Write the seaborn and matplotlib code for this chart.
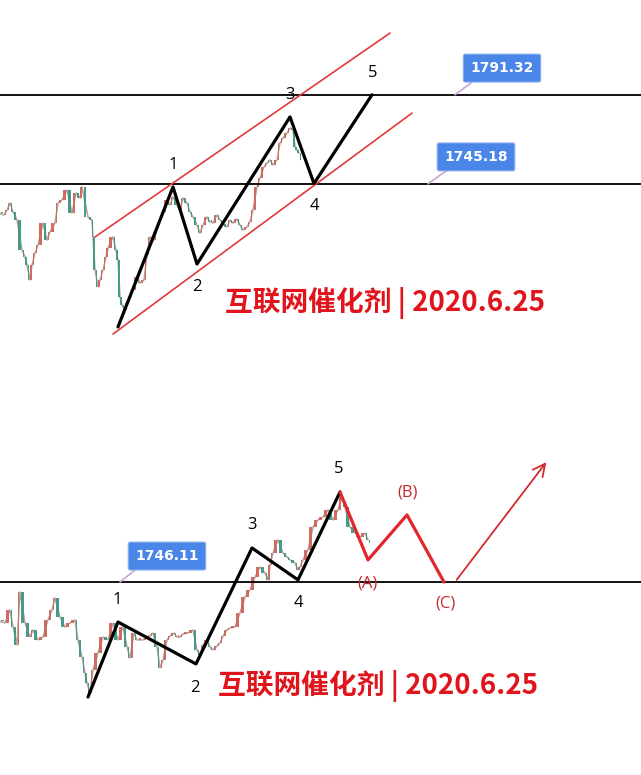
import numpy as np
import seaborn as sns
import matplotlib.pyplot as plt

# ---- top panel data (x = bar position, prices) ----
top_x = [0, 4, 7, 10, 13, 17, 22, 25, 27, 30, 32, 35, 38, 43, 47, 50, 55, 58, 62, 67,
         72, 76, 80, 82, 88, 92, 93, 95, 98, 100, 103, 106, 108, 113, 116, 118, 120, 122, 125, 127,
         130, 133, 137, 140, 144, 147, 150, 154, 157, 160, 163, 167, 170, 173, 177, 180, 183, 187, 190, 193,
         197, 200, 203, 207, 210, 213, 217, 220, 223, 227, 230, 233, 237, 240, 243, 247, 250, 253, 257, 260,
         264, 267, 270, 273, 277, 280, 283, 287, 290, 293, 295, 297, 299]
top_close = [1728.8, 1731.4, 1735.0, 1730.4, 1726.2, 1710.6, 1707.0, 1702.8, 1695.0, 1702.8,
             1709.0, 1713.2, 1724.6, 1715.8, 1720.0, 1724.6, 1735.0, 1736.6, 1741.8, 1729.8,
             1740.2, 1737.6, 1743.4, 1727.8, 1726.2, 1717.4, 1700.2, 1691.4, 1695.0, 1700.2,
             1707.0, 1711.6, 1717.4, 1710.6, 1705.4, 1686.2, 1682.0, 1679.4, 1683.0, 1686.2,
             1689.8, 1696.6, 1693.4, 1695.0, 1708.0, 1717.4, 1715.8, 1722.0, 1726.2, 1730.4,
             1736.6, 1734.0, 1738.2, 1734.0, 1731.4, 1737.6, 1735.0, 1730.4, 1727.8, 1723.6,
             1719.4, 1723.6, 1727.8, 1725.2, 1724.6, 1728.8, 1726.2, 1724.1, 1722.6, 1726.2,
             1724.6, 1726.7, 1723.6, 1721.0, 1722.6, 1725.2, 1731.4, 1743.4, 1748.0, 1753.8,
             1755.8, 1757.4, 1754.8, 1757.4, 1766.2, 1768.8, 1771.4, 1774.0, 1773.0, 1764.2,
             1762.6, 1761.0, 1757.4]
top_levels = [1791.32, 1745.18]
top_wave_x = [118, 173, 197, 290, 314, 372]
top_wave_y = [1670.6, 1743.4, 1703.3, 1779.8, 1745.18, 1791.32]
top_wave_labels = ["1", "2", "3", "4", "5"]
top_label_x = [173, 197, 290, 314, 373]
top_label_y = [1754.8, 1691.4, 1791.2, 1733.5, 1802.6]
chan_upper_x, chan_upper_y = [95, 390], [1717.4, 1823.4]
chan_lower_x, chan_lower_y = [113, 412], [1666.9, 1781.8]

# ---- bottom panel data ----
bot_x = [0, 5, 10, 13, 17, 20, 25, 30, 33, 38, 43, 48, 52, 55, 60, 65, 70, 75, 78, 82,
         85, 87, 90, 93, 98, 103, 108, 113, 118, 123, 127, 130, 134, 137, 143, 147, 150, 153, 157, 160,
         163, 167, 170, 174, 177, 180, 183, 188, 193, 197, 200, 203, 207, 210, 213, 217, 220, 223, 227, 230,
         235, 240, 245, 250, 255, 260, 265, 268, 270, 273, 278, 283, 287, 290, 295, 298, 300, 303, 308, 313,
         318, 323, 328, 333, 338, 342, 345, 350, 355, 360, 365, 368]
bot_close = [1724.8, 1731.6, 1722.7, 1713.4, 1740.9, 1724.8, 1717.5, 1721.2, 1716.0, 1717.5,
             1726.4, 1731.6, 1737.8, 1727.9, 1722.7, 1724.8, 1726.4, 1716.0, 1707.1, 1698.8,
             1693.6, 1688.4, 1700.4, 1709.2, 1717.5, 1716.0, 1724.8, 1716.0, 1722.7, 1712.3,
             1706.6, 1719.6, 1716.0, 1716.0, 1717.5, 1718.0, 1719.6, 1712.3, 1701.4, 1705.6,
             1716.0, 1718.0, 1719.6, 1717.5, 1717.5, 1719.1, 1719.6, 1721.2, 1710.8, 1708.2,
             1713.4, 1716.0, 1712.3, 1710.8, 1712.8, 1714.4, 1718.0, 1721.2, 1722.2, 1722.7,
             1730.0, 1738.3, 1742.0, 1748.7, 1753.9, 1750.8, 1747.2, 1755.0, 1761.2, 1768.0,
             1761.2, 1759.1, 1757.6, 1756.0, 1752.4, 1753.9, 1757.6, 1762.8, 1774.7, 1778.4,
             1779.9, 1783.6, 1778.4, 1783.6, 1790.3, 1785.1, 1774.7, 1771.6, 1769.5, 1771.6,
             1768.0, 1766.4]
bot_level = 1746.11
bot_wave_x = [88, 118, 196, 252, 298, 340]
bot_wave_y = [1686.3, 1725.3, 1703.5, 1763.8, 1747.2, 1792.9]
bot_label_x = [117, 195, 252, 298, 339]
bot_label_y = [1736.8, 1691.0, 1775.8, 1735.2, 1804.9]
abc_x = [340, 368, 407, 444]
abc_y = [1792.9, 1757.6, 1781.0, 1746.11]
abc_labels = ["(A)", "(B)", "(C)"]
abc_label_x = [368, 408, 445]
abc_label_y = [1745.1, 1792.4, 1734.7]
arrow_x = [455, 548]
arrow_y = [1746.11, 1809.6]

title = "互联网催化剂 | 2020.6.25"
UP, DOWN = "#cf6b60", "#459a8a"

sns.set_style("white")
plt.rcParams["font.family"] = ["Open Sans", "DejaVu Sans"]


def candles(ax, xs, closes):
    xs = np.asarray(xs, float)
    closes = np.asarray(closes, float)
    opens = np.r_[closes[0] + 0.8, closes[:-1]]
    gaps = np.r_[np.diff(xs), 3.0]
    body = closes - opens
    body = np.where(np.abs(body) < 0.8, 0.8, body)
    colors = [UP if c >= o else DOWN for o, c in zip(opens, closes)]
    # thin connecting trace gives the noisy look of tightly packed candles
    ax.plot(xs, opens, color="#9a8276", lw=1.1, alpha=0.75, zorder=1)
    ax.bar(xs + gaps * 0.5, body, bottom=opens, width=np.minimum(gaps * 0.55, 2.2),
           color=colors, linewidth=0, zorder=2)


def price_box(ax, x, y, text, px, py):
    ax.plot(px, py, color="#c9a6cf", lw=1.2, zorder=3)
    ax.text(x, y, text, ha="center", va="center", color="white", fontsize=10,
            fontweight="bold", family=["DejaVu Sans"], zorder=5,
            bbox=dict(boxstyle="round,pad=0.5,rounding_size=0.15",
                      fc="#4a86e8", ec="#86aaf0", lw=0.8))


fig = plt.figure(figsize=(6.41, 7.75), dpi=100)
ax1 = fig.add_axes([0, 1 - 390 / 775, 1, 390 / 775])
ax2 = fig.add_axes([0, 0, 1, 385 / 775])

# top panel
candles(ax1, top_x, top_close)
for lv in top_levels:
    ax1.axhline(lv, color="black", lw=1.3, zorder=3)
sns.lineplot(x=chan_upper_x, y=chan_upper_y, ax=ax1, color="#e23a3a", lw=1.2, sort=False, zorder=4)
sns.lineplot(x=chan_lower_x, y=chan_lower_y, ax=ax1, color="#e23a3a", lw=1.2, sort=False, zorder=4)
sns.lineplot(x=top_wave_x, y=top_wave_y, ax=ax1, color="black", lw=2.3, sort=False, zorder=6)
for lab, lx, ly in zip(top_wave_labels, top_label_x, top_label_y):
    ax1.text(lx, ly, lab, ha="center", va="center", fontsize=12, color="black", zorder=7)
price_box(ax1, 502, 1805.2, "1791.32", [455, 475], [1791.3, 1799.0])
price_box(ax1, 476, 1759.0, "1745.18", [428, 450], [1745.0, 1753.2])
ax1.text(385, 1683.0, title, ha="center", va="center", fontsize=20, fontweight="bold",
         color="#e0141c", family=["Noto Sans CJK SC", "DejaVu Sans"], zorder=7)
ax1.set_xlim(0, 641)
ax1.set_ylim(1637.8, 1840.6)

# bottom panel
candles(ax2, bot_x, bot_close)
ax2.axhline(bot_level, color="black", lw=1.3, zorder=3)
sns.lineplot(x=bot_wave_x, y=bot_wave_y, ax=ax2, color="black", lw=2.3, sort=False, zorder=6)
sns.lineplot(x=abc_x, y=abc_y, ax=ax2, color="#e3262b", lw=2.3, sort=False, zorder=6)
ax2.annotate("", xy=(arrow_x[1], arrow_y[1]), xytext=(arrow_x[0], arrow_y[0]),
             arrowprops=dict(arrowstyle="->", color="#d42a30", lw=1.3, mutation_scale=22), zorder=6)
for lab, lx, ly in zip(top_wave_labels, bot_label_x, bot_label_y):
    ax2.text(lx, ly, lab, ha="center", va="center", fontsize=12, color="black", zorder=7)
for lab, lx, ly in zip(abc_labels, abc_label_x, abc_label_y):
    ax2.text(lx, ly, lab, ha="center", va="center", fontsize=12, color="#c8282e", zorder=7)
price_box(ax2, 167, 1759.6, "1746.11", [120, 140], [1746.1, 1754.4])
ax2.text(378, 1692.0, title, ha="center", va="center", fontsize=20, fontweight="bold",
         color="#e0141c", family=["Noto Sans CJK SC", "DejaVu Sans"], zorder=7)
ax2.set_xlim(0, 641)
ax2.set_ylim(1645.75, 1845.95)

for ax in (ax1, ax2):
    ax.set_axis_off()

fig.savefig("out.png", dpi=100)
